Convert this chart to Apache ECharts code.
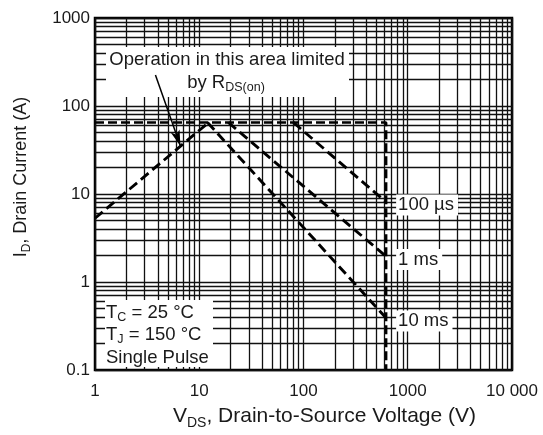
<!DOCTYPE html>
<html>
<head>
<meta charset="utf-8">
<script src="https://cdn.jsdelivr.net/npm/echarts@6/dist/echarts.min.js"></script>
<style>
  html, body { margin: 0; padding: 0; background: #fff; }
  #chart { width: 543px; height: 435px; }
</style>
</head>
<body>
<div id="chart"></div>
<script>
// axis ticks
const xTicks = [1, 10, 100, 1000, 10000];
const xTickLabels = ['1', '10', '100', '1000', '10 000'];
const yTicks = [0.1, 1, 10, 100, 1000];
const yTickLabels = ['0.1', '1', '10', '100', '1000'];

// safe operating area boundaries, [V_DS, I_D]
const limitLine = [[1, 65], [620, 65], [620, 0.1]];
const rdsLine = [[1, 5.3], [12.3, 65]];
const pulse100us = [[80, 65], [620, 8.1]];
const pulse1ms = [[19, 65], [620, 1.95]];
const pulse10ms = [[12, 65], [620, 0.39]];
const pulseNames = ['100 µs', '1 ms', '10 ms'];

const FONT = '"Liberation Sans", Arial, Helvetica, sans-serif';
const INK = '#1a1a1a';

// log grid: every integer multiple inside each decade
const gridX = [];
for (let d = 1; d < 10000; d *= 10) for (let k = 1; k < 10; k++) gridX.push(k * d);
gridX.push(10000);
const gridY = [];
for (let d = 0.1; d < 1000; d *= 10) for (let k = 1; k < 10; k++) gridY.push(+(k * d).toPrecision(3));
gridY.push(1000);

function tickLabel(ticks, labels) {
  return (v) => {
    const i = ticks.findIndex(t => Math.abs(Math.log10(t) - Math.log10(v)) < 1e-6);
    return i >= 0 ? labels[i] : '';
  };
}

// rich styles for subscripts
function subRich(size, color) {
  return {
    n: { fontSize: size, fontFamily: FONT, color: color, lineHeight: size + 6 },
    s: { fontSize: Math.round(size * 0.68), fontFamily: FONT, color: color,
         lineHeight: Math.round(size * 0.6), verticalAlign: 'bottom' }
  };
}

const chart = echarts.init(document.getElementById('chart'));

const limitStyle = { color: '#000', width: 2.6, type: [9, 4] };
const dashed = { color: '#000', width: 2.9, type: [10, 5] };

const option = {
  animation: false,
  backgroundColor: '#fff',
  grid: {
    left: 95, right: 31, top: 18, bottom: 63,
    show: true, borderColor: '#000', borderWidth: 2.5, backgroundColor: 'transparent'
  },
  xAxis: {
    type: 'log', logBase: 10, min: 1, max: 10000,
    axisLine: { show: false }, axisTick: { show: false }, splitLine: { show: false },
    axisLabel: {
      show: true, showMinLabel: true, showMaxLabel: true, margin: 13,
      color: INK, fontSize: 17, fontFamily: FONT,
      formatter: tickLabel(xTicks, xTickLabels)
    },
    name: '{n|V}{s|DS}{n|, Drain-to-Source Voltage (V)}',
    nameLocation: 'middle', nameGap: 33,
    nameTextStyle: { fontFamily: FONT, padding: [0, 0, 0, 42], rich: subRich(21, INK) }
  },
  yAxis: {
    type: 'log', logBase: 10, min: 0.1, max: 1000,
    axisLine: { show: false }, axisTick: { show: false }, splitLine: { show: false },
    axisLabel: {
      show: true, showMinLabel: true, showMaxLabel: true, margin: 5,
      color: INK, fontSize: 17, fontFamily: FONT,
      formatter: tickLabel(yTicks, yTickLabels)
    },
    name: '{n|I}{s|D}{n|, Drain Current (A)}',
    nameLocation: 'middle', nameGap: 62, nameRotate: 90,
    nameTextStyle: { fontFamily: FONT, padding: [0, 0, 0, 34], rich: subRich(18, INK) }
  },
  series: [
    {
      // grid lines drawn through the axis scales
      type: 'line', data: [], silent: true, z: 1, showSymbol: false,
      markLine: {
        silent: true, symbol: 'none', animation: false, z: 1,
        label: { show: false },
        lineStyle: { color: '#111', width: 1.3, type: 'solid' },
        data: gridX.map(v => ({ xAxis: v })).concat(gridY.map(v => ({ yAxis: v })))
      }
    },
    { type: 'line', data: limitLine, showSymbol: false, z: 5, lineStyle: limitStyle },
    {
      type: 'line', data: rdsLine, showSymbol: false, z: 5, lineStyle: dashed,
      markLine: {
        silent: true, symbol: ['none', 'arrow'], symbolSize: [7, 16], z: 10,
        label: { show: false },
        lineStyle: { color: '#000', width: 1.5, type: 'solid' },
        data: [[{ coord: [3.8, 225] }, { coord: [6.6, 35] }]]
      }
    },
    { type: 'line', data: pulse100us, showSymbol: false, z: 5, lineStyle: dashed },
    { type: 'line', data: pulse1ms, showSymbol: false, z: 5, lineStyle: dashed },
    { type: 'line', data: pulse10ms, showSymbol: false, z: 5, lineStyle: dashed }
  ]
};

chart.setOption(option);

// annotation boxes
const ANN = 18.5;
const textStyle = { fontFamily: FONT, fontSize: ANN, fill: INK };
const sub = {
  n: { fontSize: ANN, fontFamily: FONT, fill: INK, lineHeight: 22 },
  s: { fontSize: 12.5, fontFamily: FONT, fill: INK, lineHeight: 11, verticalAlign: 'bottom' }
};

const graphics = [
  { type: 'rect', shape: { x: 106, y: 47, width: 243, height: 50 }, style: { fill: '#fff' }, z: 3 },
  { type: 'text', x: 227, y: 50, z: 51,
    style: Object.assign({ text: 'Operation in this area limited', textAlign: 'center' }, textStyle) },
  { type: 'text', x: 226, y: 72, z: 51,
    style: { text: '{n|by R}{s|DS(on)}', textAlign: 'center', rich: sub, fontFamily: FONT } },
  { type: 'rect', shape: { x: 105, y: 300, width: 108, height: 67 }, style: { fill: '#fff' }, z: 3 },
  { type: 'text', x: 106, y: 302, z: 51,
    style: { text: '{n|T}{s|C}{n| = 25 °C}', rich: sub, fontFamily: FONT } },
  { type: 'text', x: 106, y: 324, z: 51,
    style: { text: '{n|T}{s|J}{n| = 150 °C}', rich: sub, fontFamily: FONT } },
  { type: 'text', x: 106, y: 348, z: 51,
    style: Object.assign({ text: 'Single Pulse' }, textStyle) }
];

[pulse100us, pulse1ms, pulse10ms].forEach((line, i) => {
  const end = line[line.length - 1];
  const pt = chart.convertToPixel({ gridIndex: 0 }, end);
  graphics.push({
    type: 'text', x: pt[0] + 10, y: pt[1] + 3, z: 51,
    style: Object.assign({
      text: pulseNames[i], textVerticalAlign: 'middle',
      backgroundColor: '#fff', padding: [1, 4, 1, 2]
    }, textStyle)
  });
});

chart.setOption({ graphic: graphics });
</script>
</body>
</html>
